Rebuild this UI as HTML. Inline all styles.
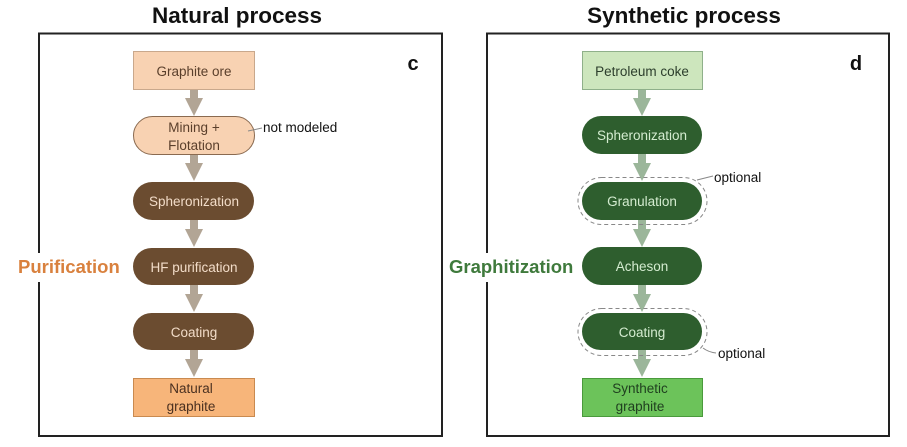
<!DOCTYPE html>
<html><head><meta charset="utf-8"><style>html,body{margin:0;padding:0;background:#fff}svg{display:block}text{font-family:"Liberation Sans",sans-serif}</style></head><body>
<svg width="907" height="447" viewBox="0 0 907 447" xmlns="http://www.w3.org/2000/svg">
<defs>
<g id="arL"><rect x="-4" y="0" width="8" height="10" fill="#b2a595"/><polygon points="-9,9 9,9 0,27" fill="#b2a595"/></g>
<g id="arR"><rect x="-4" y="0" width="8" height="10" fill="#9bb69a"/><polygon points="-9,9 9,9 0,27" fill="#9bb69a"/></g>
</defs>
<text x="237" y="23" font-size="22.5" font-weight="bold" text-anchor="middle" fill="#111">Natural process</text>
<text x="684" y="23" font-size="22.5" font-weight="bold" text-anchor="middle" fill="#111">Synthetic process</text>
<!-- Left box -->
<path d="M39,253 V33.5 H442 V436 H39 V282" fill="none" stroke="#222" stroke-width="2"/>
<text x="18" y="273" font-size="18.5" font-weight="bold" fill="#d9813e">Purification</text>
<text x="413" y="70" font-size="20" font-weight="bold" fill="#111" text-anchor="middle">c</text>
<use href="#arL" x="194" y="89"/><use href="#arL" x="194" y="154"/><use href="#arL" x="194" y="220"/><use href="#arL" x="194" y="285"/><use href="#arL" x="194" y="350"/>
<rect x="133.5" y="51.5" width="121" height="38" fill="#f8d2b2" stroke="#c9a88c"/>
<text x="194" y="76" font-size="13.5" text-anchor="middle" fill="#5a3f2b">Graphite ore</text>
<rect x="133.5" y="116.5" width="121" height="38" rx="19" fill="#f8d2b2" stroke="#8a6a50"/>
<text x="194" y="132" font-size="13.5" text-anchor="middle" fill="#5a3f2b">Mining +</text>
<text x="194" y="150" font-size="13.5" text-anchor="middle" fill="#5a3f2b">Flotation</text>
<path d="M248,131 L262,128" stroke="#888" fill="none"/>
<text x="263" y="132" font-size="13.5" fill="#111">not modeled</text>
<rect x="133" y="182" width="121" height="38" rx="19" fill="#6b4c30"/>
<text x="194" y="206" font-size="13.5" text-anchor="middle" fill="#f2dcc8">Spheronization</text>
<rect x="133" y="248" width="121" height="37" rx="18.5" fill="#6b4c30"/>
<text x="194" y="272" font-size="13.5" text-anchor="middle" fill="#f2dcc8">HF purification</text>
<rect x="133" y="313" width="121" height="37" rx="18.5" fill="#6b4c30"/>
<text x="194" y="337" font-size="13.5" text-anchor="middle" fill="#f2dcc8">Coating</text>
<rect x="133.5" y="378.5" width="121" height="38" fill="#f7b57a" stroke="#c98a50"/>
<text x="191" y="393" font-size="13.5" text-anchor="middle" fill="#4a3020">Natural</text>
<text x="191" y="411" font-size="13.5" text-anchor="middle" fill="#4a3020">graphite</text>
<!-- Right box -->
<path d="M487,253 V33.5 H889 V436 H487 V282" fill="none" stroke="#222" stroke-width="2"/>
<text x="449" y="273" font-size="18.5" font-weight="bold" fill="#3f7a3c">Graphitization</text>
<text x="856" y="70" font-size="20" font-weight="bold" fill="#111" text-anchor="middle">d</text>
<use href="#arR" x="642" y="89"/><use href="#arR" x="642" y="154"/><use href="#arR" x="642" y="220"/><use href="#arR" x="642" y="285"/><use href="#arR" x="642" y="350"/>
<rect x="582.5" y="51.5" width="120" height="38" fill="#cde6bd" stroke="#8fb08a"/>
<text x="642" y="76" font-size="13.5" text-anchor="middle" fill="#2c3e2c">Petroleum coke</text>
<rect x="582" y="116" width="120" height="38" rx="19" fill="#2e5e2e"/>
<text x="642" y="140" font-size="13.5" text-anchor="middle" fill="#d4ecd0">Spheronization</text>
<rect x="578" y="177.5" width="129" height="47" rx="23.5" fill="none" stroke="#888" stroke-dasharray="4,3"/>
<rect x="582" y="182" width="120" height="38" rx="19" fill="#2e5e2e"/>
<text x="642" y="206" font-size="13.5" text-anchor="middle" fill="#d4ecd0">Granulation</text>
<path d="M697,180 L713,176" stroke="#888" fill="none"/>
<text x="714" y="182" font-size="13.5" fill="#111">optional</text>
<rect x="582" y="247" width="120" height="38" rx="19" fill="#2e5e2e"/>
<text x="642" y="271" font-size="13.5" text-anchor="middle" fill="#d4ecd0">Acheson</text>
<rect x="578" y="308.5" width="129" height="47" rx="23.5" fill="none" stroke="#888" stroke-dasharray="4,3"/>
<rect x="582" y="313" width="120" height="37" rx="18.5" fill="#2e5e2e"/>
<text x="642" y="337" font-size="13.5" text-anchor="middle" fill="#d4ecd0">Coating</text>
<path d="M703,348 Q708,352 716,353" stroke="#888" fill="none"/>
<text x="718" y="358" font-size="13.5" fill="#111">optional</text>
<rect x="582.5" y="378.5" width="120" height="38" fill="#6cc35a" stroke="#4a9a3c"/>
<text x="640" y="393" font-size="13.5" text-anchor="middle" fill="#1f3f1f">Synthetic</text>
<text x="640" y="411" font-size="13.5" text-anchor="middle" fill="#1f3f1f">graphite</text>
</svg>
</body></html>
